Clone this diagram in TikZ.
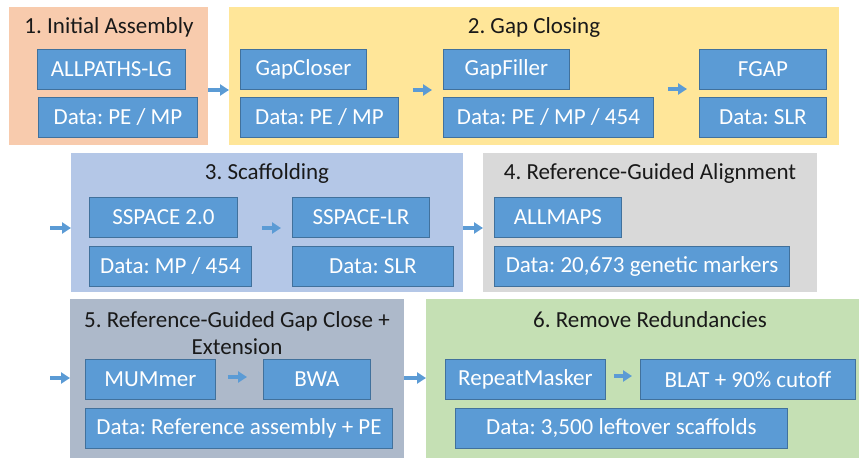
\documentclass[tikz,border=0pt]{standalone}
\usepackage{fontspec}
\setmainfont{Carlito}
\frenchspacing
\usetikzlibrary{arrows.meta}

\definecolor{toolblue}{HTML}{5B9BD5}
\definecolor{tooledge}{HTML}{41719C}
\definecolor{stageorange}{HTML}{F8CBAD}
\definecolor{stageyellow}{HTML}{FFE699}
\definecolor{stageblue}{HTML}{B4C7E7}
\definecolor{stagegrey}{HTML}{D9D9D9}
\definecolor{stageslate}{HTML}{ADB9CA}
\definecolor{stagegreen}{HTML}{C5E0B4}

\begin{document}
\begin{tikzpicture}[
  x=1pt, y=-1pt,
  stage/.style={anchor=north west, inner sep=0pt, minimum height=138pt},
  title/.style={font=\fontsize{23}{27}\selectfont, text=black!90, align=center, inner sep=0pt},
  tool/.style={draw=tooledge, line width=0.9pt, fill=toolblue, text=white, anchor=north west,
    minimum height=40pt, inner sep=0pt, font=\fontsize{23}{26}\selectfont},
  flow/.style={-{Triangle[length=9pt, width=11pt]}, line width=4pt, draw=toolblue},
]
\useasboundingbox (0,0) rectangle (859,458);

% Stage backgrounds
\node[stage, fill=stageorange, minimum width=199pt] (s1) at (9,7) {};
\node[stage, fill=stageyellow, minimum width=610pt] (s2) at (229,7) {};
\node[stage, fill=stageblue, minimum width=392pt, minimum height=139pt] (s3) at (71,153) {};
\node[stage, fill=stagegrey, minimum width=334pt, minimum height=139pt] (s4) at (483,153) {};
\node[stage, fill=stageslate, minimum width=334pt, minimum height=159pt] (s5) at (70,299) {};
\node[stage, fill=stagegreen, minimum width=433pt, minimum height=159pt] (s6) at (426,299) {};

% Stage titles
\node[title] (t1) at (109,27) {1. Initial Assembly};
\node[title] (t2) at (534,27) {2. Gap Closing};
\node[title] (t3) at (267,173) {3. Scaffolding};
\node[title] (t4) at (650,173) {4. Reference-Guided Alignment};
\node[title] (t5) at (237,333) {5. Reference-Guided Gap Close +\\Extension};
\node[title] (t6) at (650,320) {6. Remove Redundancies};

% 1. Initial assembly
\node[tool, minimum width=148pt] (allpaths) at (37,49) {ALLPATHS-LG};
\node[tool, minimum width=159pt] (d1) at (38,97) {Data: PE / MP};

% 2. Gap closing
\node[tool, minimum width=126pt] (gapcloser) at (240,49) {GapCloser};
\node[tool, minimum width=158pt] (d2a) at (240,97) {Data: PE / MP};
\node[tool, minimum width=126pt] (gapfiller) at (443,49) {GapFiller};
\node[tool, minimum width=210pt] (d2b) at (443,97) {Data: PE / MP / 454};
\node[tool, minimum width=127pt] (fgap) at (699,49) {FGAP};
\node[tool, minimum width=127pt] (d2c) at (699,97) {Data: SLR};

% 3. Scaffolding
\node[tool, minimum width=148pt] (sspace) at (89,197) {SSPACE 2.0};
\node[tool, minimum width=162pt] (d3a) at (89,246) {Data: MP / 454};
\node[tool, minimum width=137pt] (sspacelr) at (292,197) {SSPACE-LR};
\node[tool, minimum width=161pt] (d3b) at (292,246) {Data: SLR};

% 4. Reference-guided alignment
\node[tool, minimum width=127pt] (allmaps) at (494,197) {ALLMAPS};
\node[tool, minimum width=295pt] (d4) at (494,246) {Data: 20,673 genetic markers};

% 5. Reference-guided gap close + extension
\node[tool, minimum width=130pt] (mummer) at (85,359) {MUMmer};
\node[tool, minimum width=107pt] (bwa) at (263,359) {BWA};
\node[tool, minimum width=307pt] (d5) at (85,408) {Data: Reference assembly + PE};

% 6. Remove redundancies
\node[tool, minimum width=160pt] (repeatmasker) at (445,359) {RepeatMasker};
\node[tool, minimum width=215pt] (blat) at (640,359) {BLAT + 90\% cutoff};
\node[tool, minimum width=332pt] (d6) at (455,408) {Data: 3,500 leftover scaffolds};

% Arrows between stages
\coordinate (from2) at (50,228);
\coordinate (from4) at (50,378);
\draw[flow] (s1.east |- 0,90) -- (s2.west |- 0,90);
\draw[flow] (from2) -- (s3.west |- from2);
\draw[flow] (s3.east |- 0,228) -- (s4.west |- 0,228);
\draw[flow] (from4) -- (s5.west |- from4);
\draw[flow] (s5.east |- 0,378) -- (s6.west |- 0,378);

% Arrows inside stages
\draw[flow, shorten <=46pt, shorten >=11pt] (gapcloser.east |- 0,90) -- (gapfiller.west |- 0,90);
\draw[flow, shorten <=98pt, shorten >=12pt] (gapfiller.east |- 0,89) -- (fgap.west |- 0,89);
\draw[flow, shorten <=24pt, shorten >=11pt] (sspace.east |- 0,228) -- (sspacelr.west |- 0,228);
\draw[flow, shorten <=12pt, shorten >=16pt] (mummer.east |- 0,377) -- (bwa.west |- 0,377);
\draw[flow, shorten <=8pt, shorten >=8pt] (repeatmasker.east |- 0,376) -- (blat.west |- 0,376);

\end{tikzpicture}
\end{document}
